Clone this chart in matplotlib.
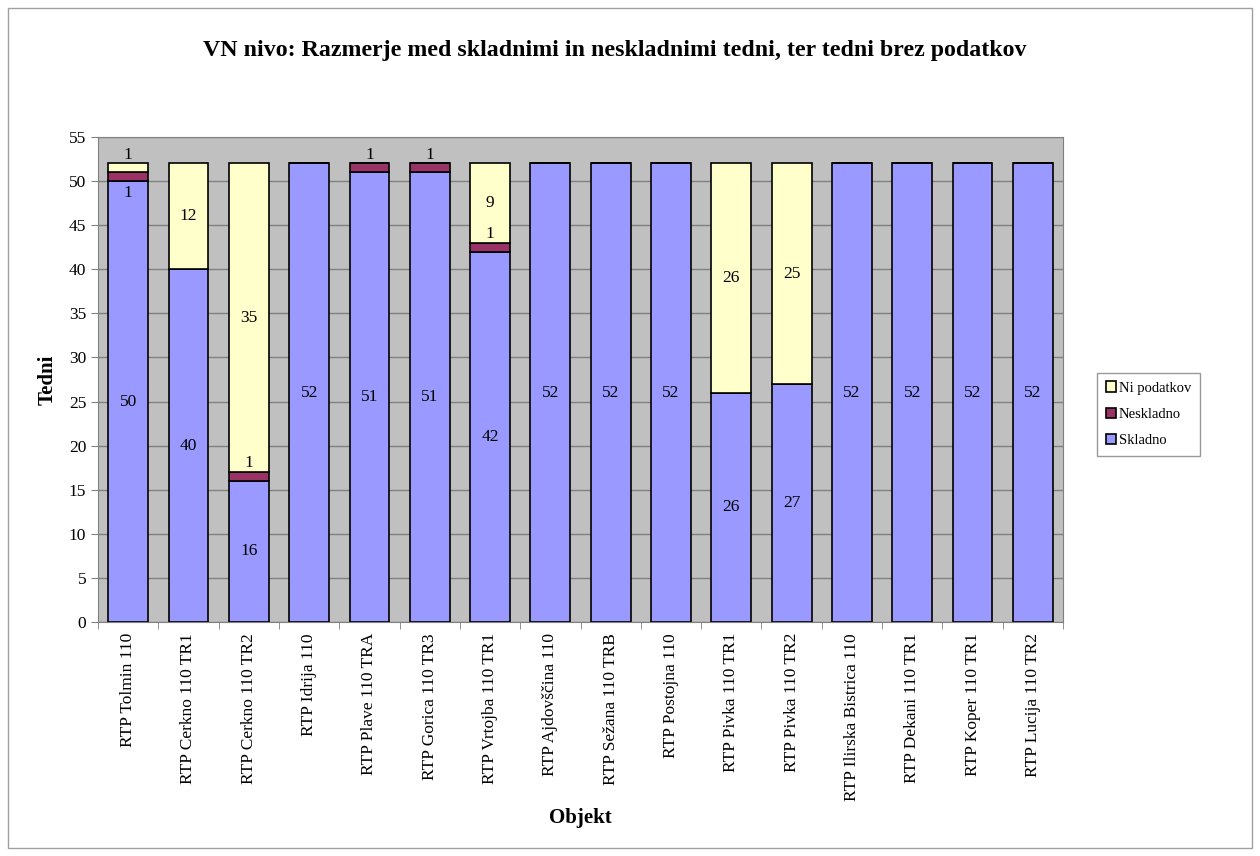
import matplotlib.pyplot as plt
from matplotlib.patches import Rectangle
import numpy as np

plt.rcParams['font.family'] = ['Liberation Serif', 'DejaVu Serif']

objekti = ["RTP Tolmin 110", "RTP Cerkno 110 TR1", "RTP Cerkno 110 TR2", "RTP Idrija 110",
           "RTP Plave 110 TRA", "RTP Gorica 110 TR3", "RTP Vrtojba 110 TR1", "RTP Ajdovščina 110",
           "RTP Sežana 110 TRB", "RTP Postojna 110", "RTP Pivka 110 TR1", "RTP Pivka 110 TR2",
           "RTP Ilirska Bistrica 110", "RTP Dekani 110 TR1", "RTP Koper 110 TR1", "RTP Lucija 110 TR2"]
skladno = [50, 40, 16, 52, 51, 51, 42, 52, 52, 52, 26, 27, 52, 52, 52, 52]
neskladno = [1, 0, 1, 0, 1, 1, 1, 0, 0, 0, 0, 0, 0, 0, 0, 0]
ni_podatkov = [1, 12, 35, 0, 0, 0, 9, 0, 0, 0, 26, 25, 0, 0, 0, 0]

n = len(objekti)
skladno = np.array(skladno)
neskladno = np.array(neskladno)
ni_podatkov = np.array(ni_podatkov)

fig = plt.figure(figsize=(12.6, 8.56), dpi=100)
fig.patches.append(Rectangle((0.006, 0.009), 0.988, 0.982, transform=fig.transFigure,
                             fill=False, edgecolor='#a0a0a0', linewidth=1))
ax = fig.add_axes([0.0778, 0.2734, 0.7659, 0.5666])
ax.set_facecolor('#c0c0c0')

x = np.arange(n)
w = 0.66
kw = dict(width=w, edgecolor='black', linewidth=1.2, zorder=3)
b1 = ax.bar(x, skladno, color='#9999ff', label='Skladno', **kw)
b2 = ax.bar(x, neskladno, bottom=skladno, color='#993366', label='Neskladno', **kw)
b3 = ax.bar(x, ni_podatkov, bottom=skladno + neskladno, color='#ffffcc', label='Ni podatkov', **kw)

fs = 12.5
for i in range(n):
    s, ne, npd = skladno[i], neskladno[i], ni_podatkov[i]
    if s > 0:
        ax.text(i, s / 2, str(s), ha='center', va='center', fontsize=fs, zorder=5)
    if ne > 0:
        top = s + ne
        # tiny segment: label goes above, or below when another small one sits on top
        y = s - 1.4 if 0 < npd <= 1 else top + 1
        ax.text(i, y, str(ne), ha='center', va='center', fontsize=fs, zorder=5)
    if npd > 0:
        lo = s + ne
        y = lo + npd / 2 if npd > 1 else lo + npd + 0.9
        ax.text(i, y, str(npd), ha='center', va='center', fontsize=fs, zorder=5)

ax.set_xlim(-0.5, n - 0.5)
ax.set_ylim(0, 55)
ax.set_yticks(np.arange(0, 56, 5))
ax.yaxis.grid(True, color='#808080', linewidth=1, zorder=0)
ax.set_axisbelow(True)
ax.set_xticks(x)
ax.set_xticklabels(objekti, rotation=90, fontsize=fs)
ax.set_xticks(np.arange(-0.5, n, 1), minor=True)
ax.tick_params(axis='x', which='major', length=0, pad=8)
ax.tick_params(axis='x', which='minor', length=5, color='#808080')
ax.tick_params(axis='y', labelsize=fs, length=5, color='#808080')
for side in ['top', 'right', 'left', 'bottom']:
    ax.spines[side].set_color('#808080')

ax.set_ylabel('Tedni', fontsize=15, fontweight='bold', labelpad=8)
ax.set_xlabel('Objekt', fontsize=15, fontweight='bold', labelpad=5)
fig.text(0.488, 0.941, 'VN nivo: Razmerje med skladnimi in neskladnimi tedni, ter tedni brez podatkov',
         ha='center', va='center', fontsize=17.2, fontweight='bold')

handles = [b3, b2, b1]
leg = fig.legend(handles, [h.get_label() for h in handles], loc='center left',
                 bbox_to_anchor=(0.865, 0.516), fontsize=10.5, frameon=True, fancybox=False,
                 edgecolor='#808080', handlelength=0.7, handleheight=0.7, handletextpad=0.2,
                 labelspacing=0.9, borderpad=0.6)
leg.get_frame().set_linewidth(1)

fig.savefig('out.png', dpi=100)
